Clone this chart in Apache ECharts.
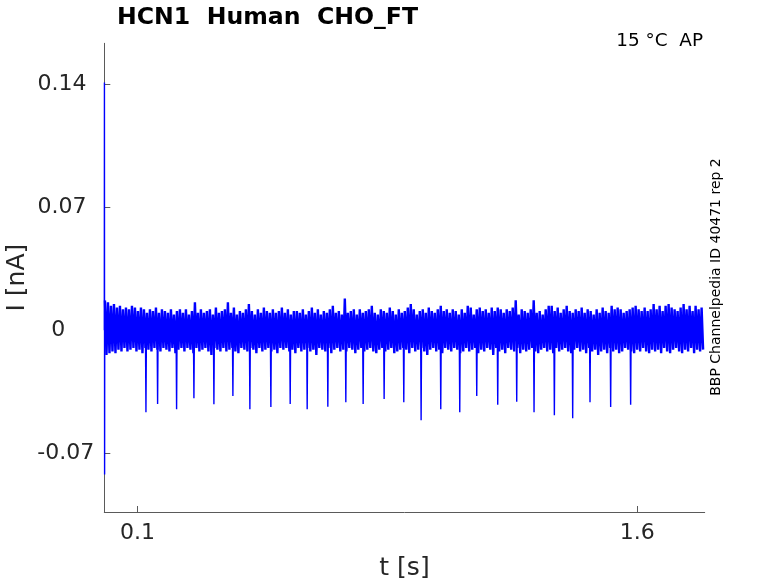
<!DOCTYPE html>
<html>
<head>
<meta charset="utf-8">
<script src="https://cdn.jsdelivr.net/npm/echarts@6/dist/echarts.min.js"></script>
<style>
html,body{margin:0;padding:0;background:#fff;}
#chart{width:778px;height:583px;}
</style>
</head>
<body>
<div id="chart"></div>
<script>
// ---- data (currents in pA, converted to nA for plotting) ----
var sampleStart = 0.002;   // s
var sampleStep = 0.009;    // s between noise pairs
var noiseHiPA = [
  17,16,14,15,13,14,12,13,12,14,13,11,13,12,10,12,11,13,10,12,
  11,10,12,9,11,12,10,12,9,11,16,10,12,10,11,12,9,13,10,11,
  12,16,10,13,9,11,10,12,15,11,9,12,10,13,11,10,12,10,11,13,
  10,12,9,11,11,10,12,9,11,13,10,12,9,11,10,12,14,10,11,9,
  18,10,11,12,9,12,10,11,12,14,10,9,12,11,10,13,11,9,12,10,
  11,13,15,12,9,11,12,10,13,11,10,12,14,11,12,10,12,11,9,12,
  10,14,13,9,12,13,11,12,10,13,11,13,12,10,12,11,13,17,9,12,
  11,10,12,17,10,11,9,12,14,14,11,13,10,12,14,11,10,12,11,13,
  10,12,11,9,12,10,13,11,10,14,12,13,12,10,11,12,13,14,12,11,
  13,11,12,15,12,14,11,14,15,13,12,11,13,15,12,14,11,14,12,13
];
var noiseLoPA = [
  -14,-13,-12,-13,-11,-12,-10,-12,-11,-10,-12,-11,-13,-10,-11,-12,-10,-11,-12,-10,
  -11,-12,-10,-13,-11,-10,-12,-10,-11,-13,-10,-12,-11,-10,-12,-14,-10,-11,-12,-10,
  -12,-11,-10,-12,-13,-10,-11,-12,-10,-11,-13,-10,-12,-11,-10,-12,-11,-13,-10,-11,
  -10,-12,-11,-13,-10,-12,-11,-10,-12,-11,-14,-10,-11,-12,-10,-13,-11,-10,-12,-11,
  -12,-10,-11,-13,-11,-10,-12,-11,-10,-12,-13,-11,-10,-12,-11,-10,-13,-12,-11,-10,
  -11,-13,-10,-12,-11,-10,-12,-14,-11,-10,-12,-11,-13,-10,-11,-12,-10,-11,-13,-12,
  -10,-12,-11,-10,-13,-11,-12,-10,-11,-14,-10,-12,-11,-13,-10,-11,-12,-10,-13,-11,
  -12,-11,-10,-12,-13,-11,-10,-12,-11,-13,-10,-12,-11,-10,-12,-13,-11,-10,-12,-11,
  -13,-10,-12,-11,-14,-12,-11,-13,-10,-12,-11,-13,-12,-10,-11,-12,-13,-11,-12,-10,
  -12,-13,-11,-12,-11,-13,-10,-12,-13,-11,-10,-12,-13,-11,-12,-10,-13,-11,-12,-11
];
var spikeTimes = [0.125,0.160,0.217,0.269,0.329,0.386,0.437,0.500,0.558,0.609,
  0.671,0.725,0.777,0.840,0.899,0.951,1.010,1.067,1.118,1.181,1.238,1.290,
  1.351,1.406,1.458,1.520,1.580];
var spikeValues = [-0.0467,-0.0420,-0.0450,-0.0387,-0.0421,-0.0374,-0.0450,-0.0437,
  -0.0420,-0.0450,-0.0435,-0.0410,-0.0420,-0.0391,-0.0409,-0.0512,-0.0450,-0.0467,
  -0.0374,-0.0423,-0.0406,-0.0467,-0.0484,-0.0501,-0.0410,-0.0437,-0.0423];
var transientTimes = [0.0, 0.0004, 0.0009, 0.0014];
var transientValues = [0.0, 0.141, -0.082, 0.017];
var yTicks = [-0.07, 0, 0.07, 0.14];
var xTicks = [0.1, 1.6];
var titleText = 'HCN1  Human  CHO_FT';
var conditionText = '15 °C  AP';
var sourceText = 'BBP Channelpedia ID 40471 rep 2';

// ---- build series ----
// noise band: dense zig-zag between the read high / low excursions
var noisePts = [];
for (var j = 0; j < noiseHiPA.length; j++) {
  var t = sampleStart + j * sampleStep;
  noisePts.push([t, noiseHiPA[j] / 1000]);
  noisePts.push([t + sampleStep / 2, noiseLoPA[j] / 1000]);
}
// transient and spikes: thin strokes starting and ending at the baseline
var spikePts = [];
for (var i = 0; i < transientTimes.length; i++) spikePts.push([transientTimes[i], transientValues[i]]);
spikePts.push(null);
for (var k = 0; k < spikeTimes.length; k++) {
  spikePts.push([spikeTimes[k] - 0.0015, 0]);
  spikePts.push([spikeTimes[k], spikeValues[k]]);
  spikePts.push([spikeTimes[k] + 0.0015, 0]);
  spikePts.push(null);
}
spikePts = spikePts.map(function (p) { return p === null ? [null, null] : p; });

var FONT = 'DejaVu Sans';
var axisCol = '#5a5a5a';
var txtCol = '#262626';
function fmt(v) { return v === 0 ? '0' : String(v); }
function fmtY(v) {
  if (v === 0) return '{z|0}';
  if (v < 0) return '{n|' + String(v) + '}';
  return String(v);
}
var labelFont = {fontFamily: FONT, fontSize: 22, color: txtCol};

var chart = echarts.init(document.getElementById('chart'), null, {renderer: 'canvas'});
chart.setOption({
  animation: false,
  backgroundColor: '#ffffff',
  grid: {left: 104.3, right: 73.3, top: 43.3, bottom: 71, containLabel: false, outerBoundsMode: 'none'},
  xAxis: {
    type: 'value', min: 0, max: 1.8023,
    name: 't [s]', nameLocation: 'middle', nameGap: 44, nameMoveOverlap: false,
    nameTextStyle: {fontFamily: FONT, fontSize: 25, color: txtCol},
    axisLine: {show: true, onZero: false, lineStyle: {color: axisCol, width: 1}},
    axisTick: {show: true, inside: true, length: 6, customValues: xTicks, lineStyle: {color: axisCol}},
    axisLabel: {show: true, customValues: xTicks, formatter: fmt, margin: 10,
      fontFamily: FONT, fontSize: 22, color: txtCol},
    splitLine: {show: false}
  },
  yAxis: {
    type: 'value', min: -0.1034, max: 0.1633,
    name: 'I [nA]', nameLocation: 'middle', nameGap: 74, nameRotate: 90, nameMoveOverlap: false,
    nameTextStyle: {fontFamily: FONT, fontSize: 25, color: txtCol},
    axisLine: {show: true, lineStyle: {color: axisCol, width: 1}},
    axisTick: {show: true, inside: true, length: 6, customValues: yTicks, lineStyle: {color: axisCol}},
    axisLabel: {show: true, customValues: yTicks, formatter: fmtY, margin: 42.3, align: 'center',
      fontFamily: FONT, fontSize: 22, color: txtCol,
      rich: {
        z: {fontFamily: FONT, fontSize: 22, color: txtCol, padding: [0, 7.4, 0, 0]},
        n: {fontFamily: FONT, fontSize: 22, color: txtCol, padding: [0, 0, 0, 7.4]}
      }},
    splitLine: {show: false}
  },
  graphic: [
    {type: 'text', x: 117, y: 18, style: {text: titleText, fontFamily: FONT, fontSize: 23.6,
      fontWeight: 'bold', fill: '#000', textAlign: 'left', textVerticalAlign: 'middle'}},
    {type: 'text', x: 703, y: 41, style: {text: conditionText, fontFamily: FONT, fontSize: 18.4,
      fill: '#000', textAlign: 'right', textVerticalAlign: 'middle'}},
    {type: 'text', x: 716, y: 277, rotation: Math.PI / 2, style: {text: sourceText, fontFamily: FONT,
      fontSize: 14, fill: '#000', textAlign: 'center', textVerticalAlign: 'middle'}}
  ],
  series: [{
    type: 'line', data: noisePts, showSymbol: false, symbol: 'none', sampling: null,
    lineStyle: {color: '#0000ff', width: 2.4}, clip: true, silent: true
  }, {
    type: 'line', data: spikePts, showSymbol: false, symbol: 'none', sampling: null,
    connectNulls: false,
    lineStyle: {color: '#0000ff', width: 1.4}, clip: true, silent: true
  }]
});
</script>
</body>
</html>
